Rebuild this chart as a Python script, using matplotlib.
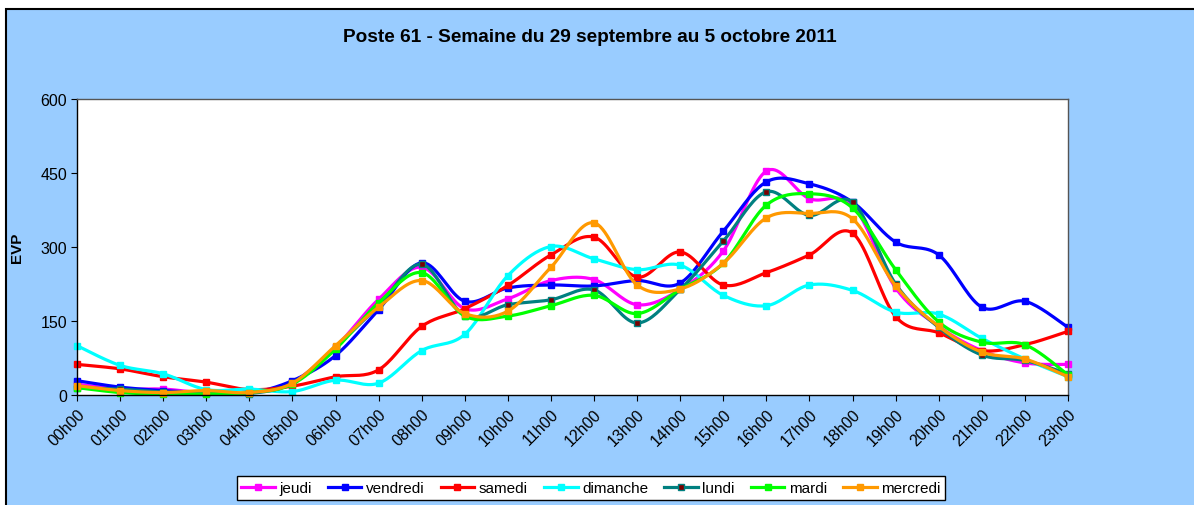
import numpy as np
import matplotlib
matplotlib.use("Agg")
import matplotlib.pyplot as plt
from matplotlib.lines import Line2D

plt.rcParams['font.family'] = ['Liberation Sans', 'DejaVu Sans']

hours = [f"{h:02d}h00" for h in range(24)]

jeudi = [22, 12, 12, 4, 4, 26, 97, 194, 259, 175, 195, 232, 234, 183, 214, 292, 454, 398, 385, 217, 139, 90, 65, 62]
vendredi = [29, 16, 9, 5, 4, 29, 80, 173, 268, 190, 217, 223, 221, 232, 227, 332, 432, 428, 391, 310, 284, 178, 190, 137]
samedi = [62, 53, 37, 26, 11, 18, 37, 51, 139, 175, 222, 284, 320, 239, 290, 223, 248, 284, 328, 159, 126, 90, 102, 129]
dimanche = [100, 60, 43, 11, 12, 7, 30, 24, 90, 123, 242, 301, 276, 254, 263, 202, 181, 223, 212, 168, 164, 115, 73, 37]
lundi = [15, 12, 6, 4, 3, 24, 97, 181, 265, 161, 183, 193, 213, 146, 214, 312, 412, 364, 391, 225, 137, 81, 70, 43]
mardi = [15, 5, 2, 2, 5, 22, 93, 187, 248, 160, 160, 181, 202, 165, 214, 267, 385, 408, 379, 254, 148, 107, 102, 41]
mercredi = [19, 9, 5, 9, 5, 24, 100, 178, 232, 165, 170, 259, 349, 223, 215, 267, 359, 368, 357, 221, 139, 87, 73, 37]

series = [
    ("jeudi", jeudi, "#FF00FF", "#FF00FF"),
    ("vendredi", vendredi, "#0000FF", "#0000FF"),
    ("samedi", samedi, "#FF0000", "#FF0000"),
    ("dimanche", dimanche, "#00FFFF", "#00FFFF"),
    ("lundi", lundi, "#008080", "#7A0000"),
    ("mardi", mardi, "#00FF00", "#00FF00"),
    ("mercredi", mercredi, "#FF9900", "#FF9900"),
]


def smooth(x, y, n=20):
    # Catmull-Rom style smoothing, like Excel "smoothed line"
    x = np.asarray(x, float)
    y = np.asarray(y, float)
    px = np.concatenate([[x[0]], x, [x[-1]]])
    py = np.concatenate([[y[0]], y, [y[-1]]])
    xs, ys = [], []
    t = np.linspace(0, 1, n, endpoint=False)
    for i in range(1, len(px) - 2):
        p0, p1, p2, p3 = (np.array([px[j], py[j]]) for j in (i - 1, i, i + 1, i + 2))
        c1 = p1 + (p2 - p0) / 6
        c2 = p2 - (p3 - p1) / 6
        b = ((1 - t) ** 3)[:, None] * p1 + (3 * (1 - t) ** 2 * t)[:, None] * c1 \
            + (3 * (1 - t) * t ** 2)[:, None] * c2 + (t ** 3)[:, None] * p2
        xs.append(b[:, 0])
        ys.append(b[:, 1])
    xs.append([x[-1]])
    ys.append([y[-1]])
    return np.concatenate(xs), np.concatenate(ys)


fig = plt.figure(figsize=(11.94, 5.06), dpi=100)
fig.patch.set_facecolor("white")
# blue chart area, border only visible on left and top (cut off at right/bottom)
bg = plt.Rectangle((6 / 1194, -0.1), 1.2, 1.1 - 10 / 506, transform=fig.transFigure,
                   facecolor="#99CCFF", edgecolor="black", linewidth=1.5, zorder=-10)
fig.patches.append(bg)

ax = fig.add_axes([77 / 1194, 1 - 396 / 506, (1068 - 77) / 1194, (396 - 100) / 506])
ax.set_zorder(2)
ax.set_facecolor("white")

x = np.arange(len(hours))
handles = []
for name, vals, col, face in series:
    sx, sy = smooth(x, vals)
    ax.plot(sx, sy, color=col, linewidth=2.3, solid_capstyle="round", clip_on=False)
    ax.plot(x, vals, linestyle="none", marker="s", markersize=4.5,
            markerfacecolor=face, markeredgecolor=col, markeredgewidth=1.0, clip_on=False)
    handles.append(Line2D([0], [0], color=col, linewidth=2.3, marker="s", markersize=4,
                          markerfacecolor=face, markeredgecolor=col))

ax.set_xlim(0, 23)
ax.set_ylim(0, 600)
ax.set_yticks([0, 150, 300, 450, 600])
ax.set_xticks(x)
ax.set_xticklabels(hours, rotation=45, ha="right", va="top", rotation_mode="anchor", fontsize=11.5)
ax.tick_params(axis="y", labelsize=11.5, length=4, direction="out", pad=3)
ax.tick_params(axis="x", length=4, direction="out", pad=4)
for s in ax.spines.values():
    s.set_linewidth(1.0)
ax.spines["top"].set_color("#555555")
ax.spines["right"].set_color("#555555")
ax.set_ylabel("EVP", fontsize=11, fontweight="bold", labelpad=12)

fig.text(590 / 1194, 1 - 38 / 506, "Poste 61 - Semaine du 29 septembre au 5 octobre 2011",
         ha="center", va="center", fontsize=13.7, fontweight="bold", zorder=3)

leg = fig.legend(handles, [s[0] for s in series], loc="center", ncol=7,
                 bbox_to_anchor=(591 / 1194, 1 - 489 / 506), fontsize=11, frameon=True,
                 fancybox=False, edgecolor="black", facecolor="white", framealpha=1,
                 handlelength=2.2, handletextpad=0.3, columnspacing=1.05, borderpad=0.3)
leg.get_frame().set_linewidth(1.0)
leg.set_zorder(3)

fig.savefig("out.png", dpi=100)
